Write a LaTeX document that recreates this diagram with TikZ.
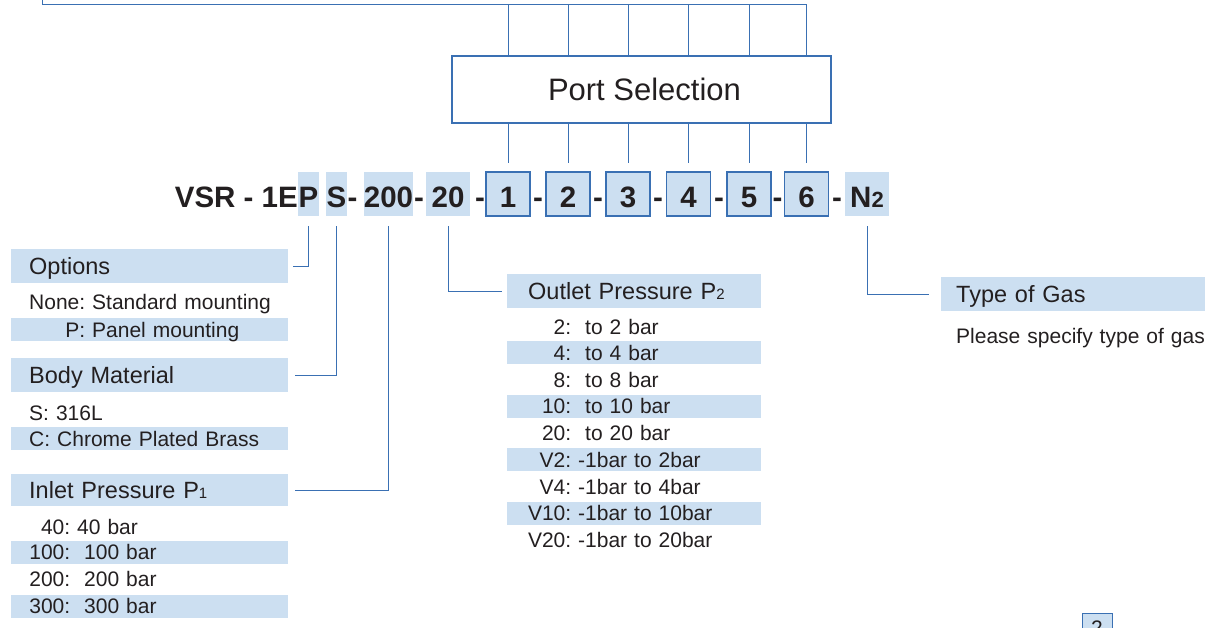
\documentclass[tikz,border=0pt]{standalone}
\usepackage{fontspec}
\setmainfont{Liberation Sans}
\definecolor{hlblue}{HTML}{CCDFF1}
\definecolor{lnblue}{HTML}{3A70B3}
\definecolor{txtgray}{HTML}{231F20}
\newcommand\keyc[2]{\makebox[#1][r]{#2}}
\newcommand\subsz[2]{{\fontsize{#1}{#1}\selectfont #2}}

\begin{document}
\begin{tikzpicture}[x=1pt, y=-1pt, text=txtgray,
  hdbar/.style={anchor=west, fill=hlblue, inner xsep=18pt, inner ysep=0pt, text width=241pt, align=left, minimum height=34pt, text height=17pt, text depth=0pt, font=\fontsize{23.5}{26}\selectfont},
  itemrow/.style={anchor=west, inner xsep=18pt, inner ysep=0pt, text width=241pt, align=left, minimum height=23pt, text height=15pt, text depth=0pt, font=\fontsize{21}{24}\selectfont},
  hlrow/.style={itemrow, fill=hlblue},
  outcol/.style={inner xsep=21pt, text width=212pt},
  gascol/.style={inner xsep=15pt, text width=234pt},
  codeseg/.style={fill=hlblue, inner sep=0pt, minimum height=44pt, text height=26pt, text depth=0pt, font=\bfseries\fontsize{29.5}{30}\selectfont},
  portbox/.style={codeseg, draw=lnblue, line width=1.3pt, minimum width=44pt},
  sepdash/.style={anchor=base, inner sep=0pt, font=\bfseries\fontsize{29.5}{30}\selectfont},
  conn/.style={draw=lnblue, line width=1pt}]
\useasboundingbox (0,0) rectangle (1208,627);
% port selection
\node[draw=lnblue, line width=1.5pt, minimum width=379pt, minimum height=67pt, font=\fontsize{31}{34}\selectfont] (ps) at (641.5,89.5) {\hspace*{6pt}Port Selection};
% order code
\node[sepdash, anchor=base east] (vsr) at (298,207) {VSR - 1E};
\node[codeseg, minimum width=21pt] (segP) at (308.5,194) {P};
\node[codeseg, minimum width=21pt] (segS) at (336.5,194) {S};
\node[sepdash] (d1) at (352.5,207) {-};
\node[codeseg, minimum width=49pt] (seg200) at (388.5,194) {200};
\node[sepdash] (d2) at (419,207) {-};
\node[codeseg, minimum width=44pt] (seg20) at (448,194) {20};
\node[sepdash] (d3) at (480,207) {-};
\node[portbox] (p1) at (508,194) {1};
\node[sepdash] (d4) at (538,207) {-};
\node[portbox] (p2) at (568,194) {2};
\node[sepdash] (d5) at (598,207) {-};
\node[portbox] (p3) at (628,194) {3};
\node[sepdash] (d6) at (658,207) {-};
\node[portbox] (p4) at (688.5,194) {4};
\node[sepdash] (d7) at (719,207) {-};
\node[portbox] (p5) at (749,194) {5};
\node[sepdash] (d8) at (777.5,207) {-};
\node[portbox] (p6) at (806.5,194) {6};
\node[sepdash] (d9) at (837,207) {-};
\node[codeseg, minimum width=44pt] (segN) at (867,194) {N\subsz{22}{2}};
% left column
\node[hdbar] (opt) at (11,266) {Options};
\node[itemrow, text width=270pt] (optnone) at (11,302) {\keyc{56pt}{None:} Standard mounting};
\node[hlrow] (optpanel) at (11,329.5) {\keyc{56pt}{P:} Panel mounting};
\node[hdbar] (body) at (11,375) {Body Material};
\node[itemrow] (bodys) at (11,413) {S: 316L};
\node[hlrow] (bodyc) at (11,438.5) {C: Chrome Plated Brass};
\node[hdbar, minimum height=32pt] (inlet) at (11,490) {Inlet Pressure P\subsz{15}{1}};
\node[itemrow] (in40) at (11,527) {\keyc{41pt}{40:} 40 bar};
\node[hlrow] (in100) at (11,552) {\keyc{41pt}{100:}\ \ 100 bar};
\node[itemrow] (in200) at (11,579) {\keyc{41pt}{200:}\ \ 200 bar};
\node[hlrow] (in300) at (11,606) {\keyc{41pt}{300:}\ \ 300 bar};
% outlet column
\node[hdbar, outcol] (outlet) at (507,291) {Outlet Pressure P\subsz{15}{2}};
\node[itemrow, outcol] (o2) at (507,327) {\keyc{43pt}{2:}\ \ to 2 bar};
\node[hlrow, outcol] (o4) at (507,352.5) {\keyc{43pt}{4:}\ \ to 4 bar};
\node[itemrow, outcol] (o8) at (507,380) {\keyc{43pt}{8:}\ \ to 8 bar};
\node[hlrow, outcol] (o10) at (507,406) {\keyc{43pt}{10:}\ \ to 10 bar};
\node[itemrow, outcol] (o20) at (507,433) {\keyc{43pt}{20:}\ \ to 20 bar};
\node[hlrow, outcol] (ov2) at (507,459.5) {\keyc{43pt}{V2:} -1bar to 2bar};
\node[itemrow, outcol] (ov4) at (507,487) {\keyc{43pt}{V4:} -1bar to 4bar};
\node[hlrow, outcol] (ov10) at (507,513) {\keyc{43pt}{V10:} -1bar to 10bar};
\node[itemrow, outcol] (ov20) at (507,540) {\keyc{43pt}{V20:} -1bar to 20bar};
% gas
\node[hdbar, gascol] (gas) at (941,294) {Type of Gas};
\node[itemrow, gascol, text width=260pt] (gasnote) at (941,336) {Please specify type of gas};
% page number
\node[draw=lnblue, fill=hlblue, line width=1pt, minimum width=30pt, minimum height=30pt, inner sep=0pt, font=\fontsize{21}{21}\selectfont] (pg) at (1097,628) {2};
% connectors
\coordinate (topcut) at (42,-5); \coordinate (topl) at (42,4.5);
\draw[conn] (topcut) -- (topl) -- (p6 |- topl) -- (p6 |- ps.north);
\draw[conn] (p1 |- topl) -- (p1 |- ps.north); \draw[conn] (p2 |- topl) -- (p2 |- ps.north);
\draw[conn] (p3 |- topl) -- (p3 |- ps.north); \draw[conn] (p4 |- topl) -- (p4 |- ps.north);
\draw[conn] (p5 |- topl) -- (p5 |- ps.north);
\draw[conn] (p1 |- ps.south) -- ([yshift=8pt]p1.north); \draw[conn] (p2 |- ps.south) -- ([yshift=8pt]p2.north);
\draw[conn] (p3 |- ps.south) -- ([yshift=8pt]p3.north); \draw[conn] (p4 |- ps.south) -- ([yshift=8pt]p4.north);
\draw[conn] (p5 |- ps.south) -- ([yshift=8pt]p5.north); \draw[conn] (p6 |- ps.south) -- ([yshift=8pt]p6.north);
\draw[conn] ([yshift=-10pt]segP.south) |- ([xshift=5pt]opt.east);
\draw[conn] ([yshift=-10pt]segS.south) |- ([xshift=7pt]body.east);
\draw[conn] ([yshift=-10pt]seg200.south) |- ([xshift=7pt]inlet.east);
\draw[conn] ([yshift=-10pt]seg20.south) |- ([xshift=-5pt]outlet.west);
\draw[conn] ([yshift=-10pt]segN.south) |- ([xshift=-12pt]gas.west);
\end{tikzpicture}
\end{document}
